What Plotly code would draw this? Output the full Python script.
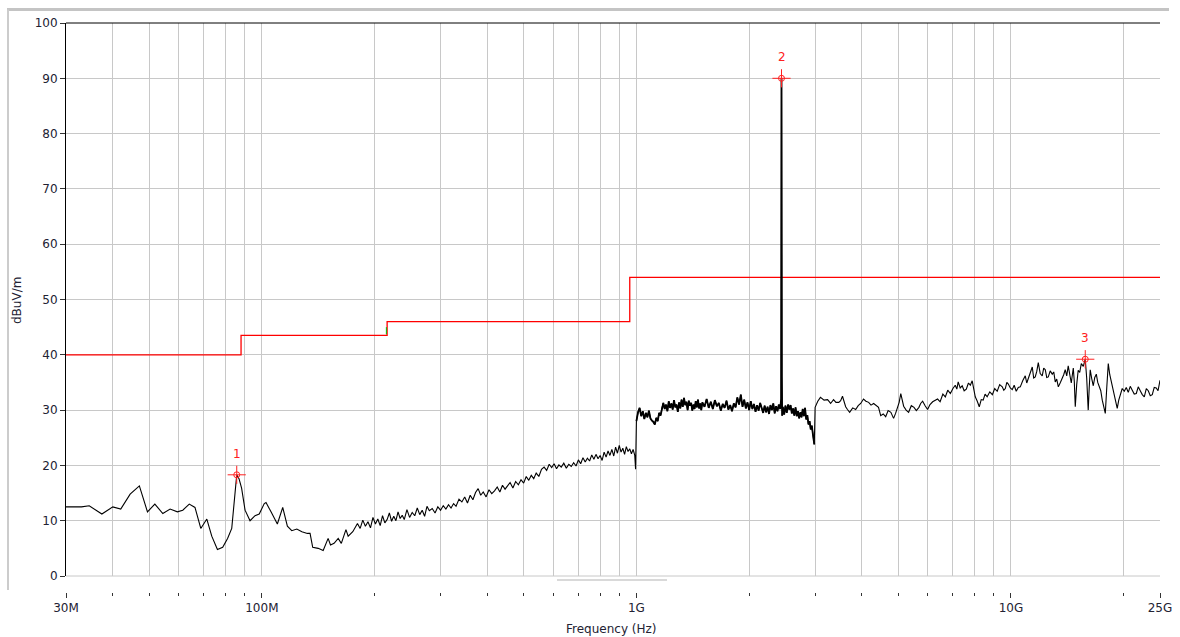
import numpy as np
import plotly.graph_objects as go

# ---- measured trace (frequency in MHz, level in dBuV/m) ----
low_freq = [30.0, 33.0, 34.6, 37.4, 40.0, 42.0, 44.5, 47.1, 49.5, 51.8,
            54.4, 56.9, 59.5, 61.5, 64.0, 66.3, 68.7, 71.3, 73.5, 76.1,
            78.6, 81.0, 83.1, 85.7, 86.9, 88.3, 90.2, 93.0, 95.9, 98.4,
            101.5, 102.6, 105.8, 110.0, 113.7, 117.0, 120.2, 124.0, 127.9, 132.3,
            134.5, 136.7, 141.4, 145.8, 150.3, 152.5, 155.9, 159.9, 163.0, 167.7,
            170.0, 174.9]
low_level = [12.5, 12.5, 12.7, 11.2, 12.5, 12.1, 14.8, 16.3, 11.6, 13.0,
             11.3, 12.1, 11.6, 11.9, 13.0, 12.4, 8.6, 10.3, 7.2, 4.8,
             5.2, 6.8, 8.6, 18.3, 17.6, 15.9, 11.9, 10.0, 10.9, 11.2,
             13.1, 13.3, 11.6, 9.4, 12.4, 9.0, 8.2, 8.5, 8.0, 7.7,
             7.7, 5.2, 5.0, 4.6, 6.8, 5.6, 5.9, 6.8, 5.9, 8.4,
             7.2, 8.0]

mid_freq = [180, 183, 186, 189, 192, 195, 198, 201, 204, 207,
            210, 213, 216, 219, 222, 225, 228, 231, 234, 237,
            240, 244, 248, 252, 256, 260, 264, 268, 272, 276,
            280, 285, 290, 295, 300, 305, 310, 315, 320, 325,
            330, 336, 342, 348, 354, 360, 366, 372, 378, 384,
            390, 397, 404, 411, 418, 425, 432, 439, 446, 453,
            460, 468, 476, 484, 492, 500, 508, 516, 524, 532,
            540, 549, 558, 567, 576, 585, 594, 603, 612, 621,
            630, 640, 650, 660, 670, 680, 690, 700, 710, 720,
            730, 740, 750, 760, 770, 780, 790, 800, 810, 820,
            830, 840, 850, 860, 870, 880, 890, 900, 910, 920,
            930, 940, 950, 960, 970, 980, 990, 995]
mid_level = [9.5, 8.6, 10.1, 9.0, 9.8, 8.7, 10.6, 9.4, 10.3, 9.1,
             10.9, 9.6, 10.2, 11.4, 9.9, 10.8, 10.0, 11.6, 10.4, 11.0,
             10.2, 12.0, 10.6, 11.5, 10.9, 12.3, 11.1, 11.9, 10.8, 12.6,
             11.8, 12.2, 11.4, 12.5, 11.9, 12.7, 12.1, 12.9, 12.3, 13.1,
             12.6, 13.9, 13.4, 14.3, 13.2, 14.6, 13.8, 15.1, 15.8, 14.6,
             15.2, 14.3, 15.6, 14.9, 15.4, 16.1, 15.2, 16.4, 15.7, 16.3,
             16.9, 15.9, 17.1, 16.5, 17.4, 16.8, 18.0, 17.3, 18.2, 17.6,
             18.6, 18.0, 19.3, 19.7, 19.1, 20.2, 19.6, 20.3, 19.4, 20.1,
             19.7, 20.4, 19.5, 20.2, 19.8, 20.5, 19.9, 21.0, 20.3, 21.4,
             20.6, 21.3, 20.8, 21.9, 21.1, 22.0, 21.2, 21.8, 20.9, 22.4,
             21.5, 22.6, 21.8, 22.9, 21.7, 23.3, 22.2, 23.6, 22.4, 23.1,
             22.0, 23.4, 22.5, 23.0, 22.1, 22.9, 21.8, 19.3]

band_freq = [1000, 1010, 1020, 1030, 1040, 1050, 1060, 1070, 1080, 1090,
             1100, 1110, 1120, 1130, 1140, 1150, 1160, 1170, 1180, 1190,
             1200, 1210, 1220, 1230, 1240, 1250, 1260, 1270, 1280, 1290,
             1300, 1310, 1320, 1330, 1340, 1350, 1360, 1370, 1380, 1390,
             1400, 1410, 1420, 1430, 1440, 1450, 1460, 1470, 1480, 1490,
             1500, 1520, 1540, 1560, 1580, 1600, 1620, 1640, 1660, 1680,
             1700, 1720, 1740, 1760, 1780, 1800, 1820, 1840, 1860, 1880,
             1900, 1920, 1940, 1960, 1980, 2000, 2020, 2040, 2060, 2080,
             2100, 2120, 2140, 2160, 2180, 2200, 2220, 2240, 2260, 2280,
             2300, 2320, 2340, 2360, 2380, 2400, 2420, 2435, 2440, 2442,
             2445, 2450]
band_level = [28.0, 29.6, 30.4, 28.9, 29.8, 28.4, 29.5, 28.7, 29.9, 28.5,
              28.1, 27.9, 27.4, 28.6, 28.0, 29.5, 29.0, 30.4, 31.3, 30.2,
              31.0, 29.8, 31.6, 30.4, 31.2, 30.1, 31.8, 30.5, 31.0, 29.7,
              31.4, 30.3, 31.9, 30.6, 32.2, 30.9, 31.5, 30.0, 31.7, 30.8,
              31.3, 29.9, 31.0, 30.2, 31.6, 30.5, 31.9, 30.3, 31.2, 30.0,
              31.4, 30.6, 32.0, 30.4, 31.5, 30.2, 31.8, 30.7, 31.3, 29.9,
              31.1, 30.4, 31.7, 30.1, 30.9, 29.8, 31.2, 30.5, 32.3, 31.0,
              32.8, 30.6, 31.9, 30.3, 31.4, 30.0, 31.6, 30.2, 31.1, 29.7,
              30.9, 29.9, 31.3, 30.4, 29.5, 30.8, 29.6, 30.6, 29.3, 30.9,
              30.0, 31.2, 29.4, 30.7, 29.8, 31.0, 30.2, 32.0, 90.0, 89.0,
              36.0, 29.0]

post_freq = [2460, 2480, 2500, 2520, 2540, 2560, 2580, 2600, 2620, 2640,
             2660, 2680, 2700, 2720, 2740, 2760, 2780, 2800, 2820, 2840,
             2860, 2880, 2900, 2920, 2940, 2960, 2975, 2985]
post_level = [30.6, 29.2, 30.8, 29.5, 31.0, 30.1, 30.9, 29.4, 30.3, 29.0,
              30.5, 28.9, 29.8, 28.5, 29.6, 28.7, 30.2, 28.9, 30.4, 28.3,
              29.1, 27.4, 28.0, 26.5, 27.2, 25.6, 24.3, 23.8]

upper_freq = [3000, 3050, 3100, 3170, 3240, 3300, 3360, 3410, 3470, 3510,
              3550, 3620, 3660, 3710, 3780, 3850, 3910, 3970, 4040, 4100,
              4170, 4230, 4300, 4360, 4430, 4490, 4560, 4630, 4700, 4780,
              4860, 4920, 4980, 5030, 5080, 5120, 5170, 5250, 5330, 5420,
              5510, 5590, 5680, 5740, 5810, 5900, 5990, 6080]
upper_level = [30.5, 31.6, 32.3, 31.8, 31.9, 31.2, 31.9, 31.4, 31.4, 31.7,
               32.5, 30.6, 30.1, 29.6, 30.4, 30.1, 30.8, 31.2, 32.0, 31.6,
               31.4, 30.9, 31.2, 30.8, 30.5, 29.0, 29.3, 28.8, 29.9, 29.6,
               28.5, 29.4, 30.6, 31.4, 33.0, 31.9, 30.7, 30.0, 29.6, 30.8,
               30.5, 29.9, 30.5, 31.2, 31.6, 30.8, 30.1, 31.0]

high_freq = [6180, 6370, 6470, 6580, 6680, 6780, 6890, 7000, 7100, 7170,
             7230, 7320, 7410, 7500, 7600, 7700, 7790, 7880, 7950, 8030,
             8130, 8230, 8330, 8430, 8530, 8640, 8780, 8920, 9050, 9190,
             9330, 9480, 9570, 9660, 9750, 9840, 9960, 10080, 10200, 10330,
             10460, 10590, 10750, 10920, 11020, 11120, 11260, 11400, 11500, 11610,
             11720, 11830, 11970, 12120, 12230, 12350, 12460, 12580, 12730, 12890,
             13010, 13130, 13250, 13380, 13550, 13710, 13830, 13960, 14090, 14220,
             14350, 14490, 14580, 14670, 14760, 14850, 14980, 15120, 15260, 15410,
             15600, 15790, 15930, 16080, 16180, 16280, 16430, 16590, 16740, 16900,
             17050, 17210, 17370, 17530, 17700, 17860, 18020, 18190, 18360, 18530,
             18700, 18870, 19050, 19220, 19400, 19580, 19820, 20070, 20320, 20570,
             20820, 21080, 21340, 21610, 21870, 22140, 22420, 22700, 22980, 23260,
             23550, 23840, 24130, 24430, 24700, 25000]
high_level = [31.5, 32.0, 31.5, 32.9, 32.4, 33.6, 33.0, 33.9, 34.5, 33.8,
              35.1, 34.0, 34.4, 33.5, 33.8, 34.9, 34.5, 35.3, 33.9, 32.4,
              31.6, 30.6, 31.9, 31.8, 32.9, 32.4, 33.3, 32.8, 33.9, 33.4,
              34.6, 34.2, 33.6, 33.9, 35.0, 34.7, 34.0, 33.7, 34.5, 33.4,
              34.1, 34.2, 35.3, 36.2, 34.9, 35.6, 36.7, 37.8, 35.8, 36.0,
              37.0, 38.6, 36.6, 36.2, 37.6, 37.3, 35.9, 36.0, 37.1, 36.5,
              36.9, 35.1, 35.6, 34.2, 35.0, 35.7, 36.4, 37.3, 36.2, 38.0,
              36.8, 34.9, 36.3, 37.6, 35.2, 30.6, 34.6, 37.2, 36.8, 38.4,
              37.9, 39.2, 35.8, 30.0, 34.1, 37.3, 35.7, 34.4, 35.9, 36.5,
              35.0, 34.2, 33.5, 31.8, 30.5, 29.4, 34.0, 38.4, 36.4, 35.1,
              33.7, 32.4, 31.5, 30.3, 31.8, 32.6, 33.9, 33.4, 34.1, 33.2,
              34.3, 33.6, 32.9, 33.0, 34.2, 33.5, 32.8, 32.4, 33.9, 33.5,
              32.6, 32.8, 34.1, 34.0, 33.5, 35.4]

# ---- limit line ----
limit_freq = [30, 88, 216, 960, 25000]
limit_level = [40, 43.5, 46, 54, 54]

# ---- peak markers ----
marker_freq = [85.7, 2440, 15790]
marker_level = [18.3, 90.0, 39.2]
marker_label = ['1', '2', '3']

# ---- axis ticks ----
major_ticks = [30, 100, 1000, 10000, 25000]
major_labels = ['30M', '100M', '1G', '10G', '25G']
minor_ticks = [40, 50, 60, 70, 80, 90, 200, 300, 400, 500, 600, 700, 800, 900,
               2000, 3000, 4000, 5000, 6000, 7000, 8000, 9000, 20000]

freq = low_freq + mid_freq + band_freq + post_freq + upper_freq + high_freq
level = low_level + mid_level + band_level + post_level + upper_level + high_level
# the densely swept 1 - 3 GHz band prints as a heavier line
dense_freq = band_freq + post_freq
dense_level = band_level + post_level

W, H = 1180, 637
L, R, T, B = 66, 20, 23, 0
pw, ph = W - L - R, H - T - B


def px(xp):
    return (xp - L) / pw


def py(yp):
    return (H - yp) / ph


grid = '#c8c8c8'
txt = '#222233'
red = '#ff2020'

fig = go.Figure()

fig.add_trace(go.Scatter(x=limit_freq, y=limit_level, mode='lines',
                         line=dict(color='#ff0000', width=1.3, shape='hv')))
fig.add_trace(go.Scatter(x=[215, 215], y=[43.7, 45.0], mode='lines',
                         line=dict(color='#00c000', width=1)))
fig.add_trace(go.Scatter(x=freq, y=level, mode='lines',
                         line=dict(color='black', width=1.1)))
fig.add_trace(go.Scatter(x=dense_freq, y=dense_level, mode='lines',
                         line=dict(color='black', width=1.8)))
fig.add_trace(go.Scatter(x=marker_freq, y=marker_level, mode='markers',
                         marker=dict(symbol='cross-thin-open', size=13, color=red,
                                     line=dict(color=red, width=1))))
fig.add_trace(go.Scatter(x=marker_freq, y=marker_level, mode='markers',
                         marker=dict(symbol='circle-open', size=6, color=red,
                                     line=dict(color=red, width=1))))

for f, v, lab in zip(marker_freq, marker_level, marker_label):
    fig.add_annotation(x=np.log10(f), y=v, text=lab, showarrow=False,
                       yshift=21, font=dict(color=red, size=12))

fig.update_layout(
    width=W, height=H,
    margin=dict(l=L, r=R, t=T, b=B),
    paper_bgcolor='white', plot_bgcolor='white',
    showlegend=False,
    font=dict(family='DejaVu Sans', size=12, color=txt),
)

fig.update_xaxes(
    type='log', range=[np.log10(30), np.log10(25000)],
    anchor='free', position=py(592),
    tickmode='array', tickvals=major_ticks, ticktext=major_labels,
    ticks='outside', ticklen=5, tickcolor='#333333', tickwidth=1,
    showgrid=True, gridcolor=grid, gridwidth=1,
    showline=False, zeroline=False, automargin=False,
    minor=dict(tickmode='array', tickvals=minor_ticks, ticks='outside',
               ticklen=3, tickcolor='#333333', showgrid=True,
               gridcolor=grid, gridwidth=1),
)
fig.update_yaxes(
    range=[0, 100], domain=[py(576), 1], dtick=10,
    ticks='outside', ticklen=5, tickcolor='#333333',
    showline=True, linecolor='black', linewidth=1,
    showgrid=True, gridcolor=grid, gridwidth=1,
    zeroline=False, automargin=False,
)

# frame, top border and small bar under the plot
fig.add_shape(type='line', xref='x domain', yref='y domain',
              x0=0, x1=1, y0=1, y1=1, line=dict(color='black', width=1))
fig.add_shape(type='line', xref='x domain', yref='y domain',
              x0=0, x1=1, y0=0, y1=0, line=dict(color=grid, width=1))
fig.add_shape(type='line', xref='paper', yref='paper',
              x0=px(7), x1=px(1169), y0=py(9.5), y1=py(9.5),
              line=dict(color='#c4c4c4', width=3))
fig.add_shape(type='line', xref='paper', yref='paper',
              x0=px(8), x1=px(8), y0=py(9.5), y1=py(590),
              line=dict(color='#cccccc', width=2))
fig.add_shape(type='line', xref='paper', yref='paper',
              x0=px(557), x1=px(667), y0=py(580), y1=py(580),
              line=dict(color='#cccccc', width=1.5))

fig.add_annotation(xref='paper', yref='paper', x=px(611), y=py(629),
                   text='Frequency (Hz)', showarrow=False,
                   xanchor='center', yanchor='middle', font=dict(size=12, color=txt))
fig.add_annotation(xref='paper', yref='paper', x=px(17), y=py(301),
                   text='dBuV/m', showarrow=False, textangle=-90,
                   xanchor='center', yanchor='middle', font=dict(size=12, color=txt))

# page body margin would shift the figure by 8px
fig.write_html("out.html", config={'displayModeBar': False},
               post_script="document.body.style.margin='0';")
